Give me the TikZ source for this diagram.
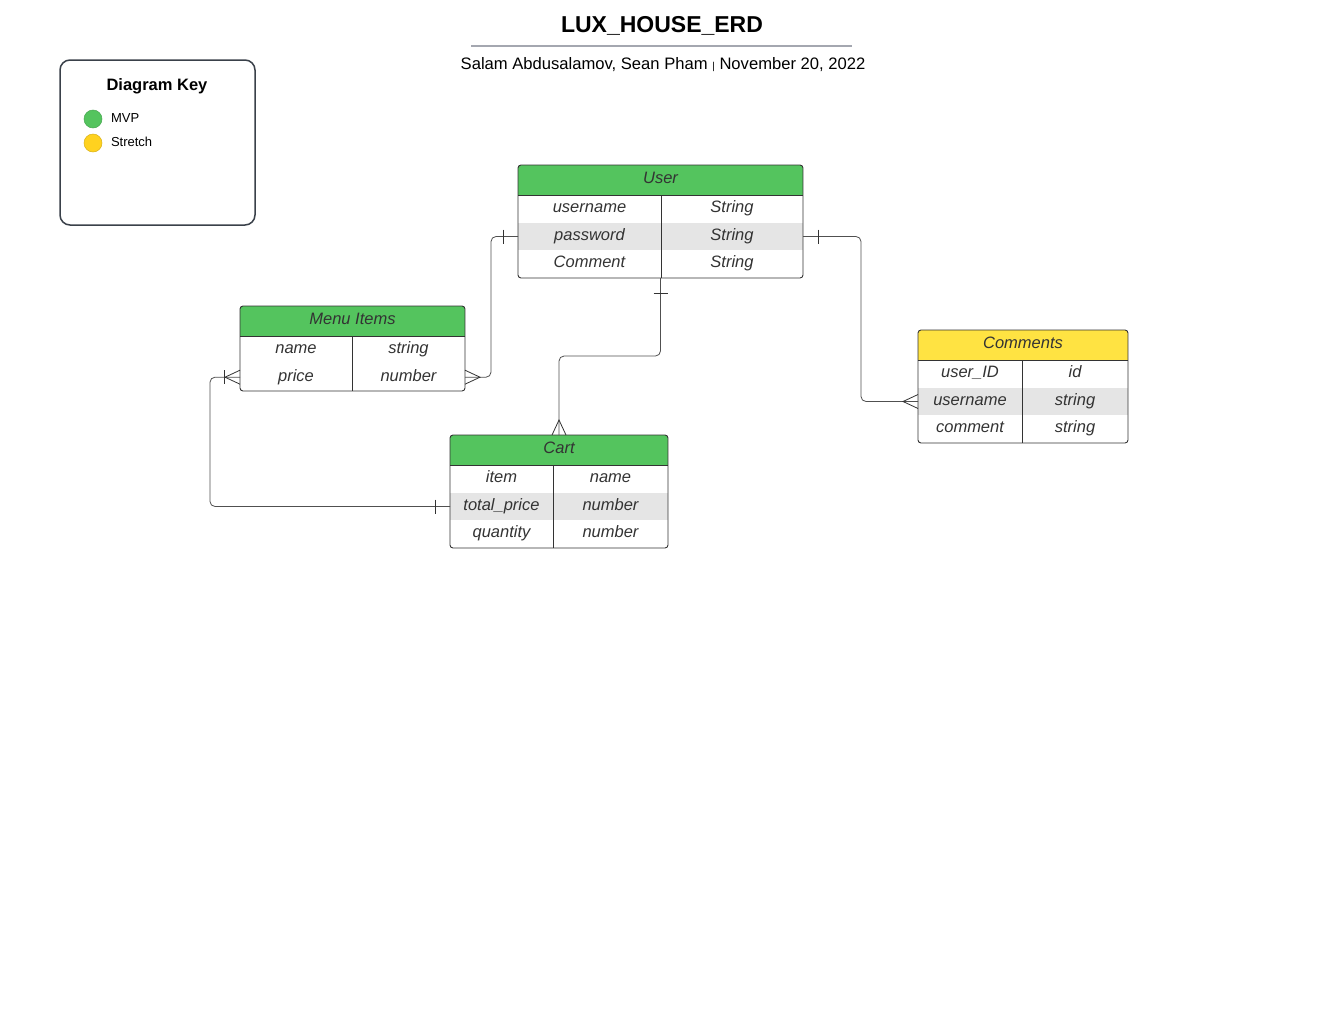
\documentclass[tikz,border=0pt]{standalone}
\usepackage{fontspec}
\setmainfont{Liberation Sans}
\definecolor{mvpgreen}{HTML}{54C45E}
\definecolor{stretchyellow}{HTML}{FFE342}
\definecolor{keyyellow}{HTML}{FFD21F}
\definecolor{rowgray}{HTML}{E5E5E5}
\definecolor{inkgray}{HTML}{333333}
\definecolor{keyborder}{HTML}{3A414A}
\definecolor{rulegray}{HTML}{A4A7B0}
\definecolor{linkgray}{HTML}{505050}
\tikzset{
    tframe/.style = {draw = inkgray, line width = 0.9pt, rounded corners = 3pt, inner sep = 0pt, outer sep = 0pt},
    rowbox/.style = {inner sep = 0pt, outer sep = 0pt, minimum height = 27.6pt},
    cell/.style = {font = \fontsize{16.5}{19}\selectfont\itshape, text = inkgray, text height = 11.8pt, text depth = 0pt, inner sep = 0pt},
    divider/.style = {draw = inkgray, line width = 0.8pt},
    link/.style = {draw = linkgray, line width = 0.8pt, rounded corners = 5pt},
    notch/.style = {draw = inkgray, line width = 0.8pt},
    crow/.style = {draw = inkgray, line width = 0.8pt}
}
\begin{document}
\begin{tikzpicture}[x = 1pt, y = -1pt]
    \useasboundingbox (0,0) rectangle (1320,1020);
    % title block
    \node [font = \fontsize{23}{26}\selectfont\bfseries, text height = 16.5pt, text depth = 0pt, inner sep = 0pt] (title) at (662,24) {LUX\_HOUSE\_ERD};
    \draw [rulegray, line width = 1.6pt] (471,46) -- (852,46);
    \node [font = \fontsize{16.6}{19}\selectfont, text height = 12pt, text depth = 0pt, inner sep = 0pt] (authors) at (663,63) {Salam Abdusalamov, Sean Pham {\fontsize{10}{10}\selectfont |} November 20, 2022};
    % diagram key
    \node [draw = keyborder, line width = 1.5pt, rounded corners = 10pt, minimum width = 195pt, minimum height = 165pt] (key) at (157.5,142.5) {};
    \node [font = \fontsize{16.5}{19}\selectfont\bfseries] (keytitle) at (157,86) {Diagram Key};
    \node [circle, fill = mvpgreen, draw = mvpgreen!85!black, line width = 0.5pt, minimum size = 18pt, inner sep = 0pt] (mvpdot) at (93,119) {};
    \node [circle, fill = keyyellow, draw = keyyellow!85!black, line width = 0.5pt, minimum size = 18pt, inner sep = 0pt] (stretchdot) at (93,143) {};
    \node [anchor = west, font = \fontsize{13}{15}\selectfont] (mvplabel) at (107.5,118) {MVP};
    \node [anchor = west, font = \fontsize{13}{15}\selectfont] (stretchlabel) at (107.5,142) {Stretch};
    % User
    \begin{scope}
        \clip [rounded corners = 3pt] (518,165) rectangle (803,278);
        \fill [mvpgreen] (518,165) rectangle (803,195);
        \node [rowbox, fill = rowgray, minimum width = 285pt] (userPass) at (660.5,236.5) {};
    \end{scope}
    \draw [divider] (518,195) -- (803,195);
    \draw [divider] (661,195) -- (661,278);
    \node [cell] at (660.5,178) {User};
    \node [cell] at (589.5,207) {username};
    \node [cell] at (732,207) {String};
    \node [cell] at (589.5,235) {password};
    \node [cell] at (732,235) {String};
    \node [cell] at (589.5,262) {Comment};
    \node [cell] at (732,262) {String};
    \node [tframe, minimum width = 285pt, minimum height = 113pt] (user) at (660.5,221.5) {};
    % Menu Items
    \begin{scope}
        \clip [rounded corners = 3pt] (240,306) rectangle (465,391);
        \fill [mvpgreen] (240,306) rectangle (465,336);
        \node [rowbox, minimum width = 225pt] (menuPrice) at (352.5,377.2) {};
    \end{scope}
    \draw [divider] (240,336) -- (465,336);
    \draw [divider] (352,336) -- (352,391);
    \node [cell] at (352.5,319) {Menu Items};
    \node [cell] at (296,348) {name};
    \node [cell] at (408.5,348) {string};
    \node [cell] at (296,376) {price};
    \node [cell] at (408.5,376) {number};
    \node [tframe, minimum width = 225pt, minimum height = 85pt] (menu) at (352.5,348.5) {};
    % Cart
    \begin{scope}
        \clip [rounded corners = 3pt] (450,435) rectangle (668,548);
        \fill [mvpgreen] (450,435) rectangle (668,465);
        \node [rowbox, fill = rowgray, minimum width = 218pt] (cartTotal) at (559,506.5) {};
    \end{scope}
    \draw [divider] (450,465) -- (668,465);
    \draw [divider] (553,465) -- (553,548);
    \node [cell] at (559,448) {Cart};
    \node [cell] at (501.5,477) {item};
    \node [cell] at (610.5,477) {name};
    \node [cell] at (501.5,505) {total\_price};
    \node [cell] at (610.5,505) {number};
    \node [cell] at (501.5,532) {quantity};
    \node [cell] at (610.5,532) {number};
    \node [tframe, minimum width = 218pt, minimum height = 113pt] (cart) at (559,491.5) {};
    % Comments
    \begin{scope}
        \clip [rounded corners = 3pt] (918,330) rectangle (1128,443);
        \fill [stretchyellow] (918,330) rectangle (1128,360);
        \node [rowbox, fill = rowgray, minimum width = 210pt] (comUser) at (1023,401.5) {};
    \end{scope}
    \draw [divider] (918,360) -- (1128,360);
    \draw [divider] (1022,360) -- (1022,443);
    \node [cell] at (1023,343) {Comments};
    \node [cell] at (970,372) {user\_ID};
    \node [cell] at (1075,372) {id};
    \node [cell] at (970,400) {username};
    \node [cell] at (1075,400) {string};
    \node [cell] at (970,427) {comment};
    \node [cell] at (1075,427) {string};
    \node [tframe, minimum width = 210pt, minimum height = 113pt] (comments) at (1023,386.5) {};
    % relationships
    \draw [link] (userPass.west) -- ++(-27,0) |- (menuPrice.east);
    \draw [link] (userPass.east) -- ++(58,0) |- (comUser.west);
    \draw [link] (user.south) -- ++(0,78) -| (cart.north);
    \draw [link] (cartTotal.west) -- ++(-240,0) |- (menuPrice.west);
    % ends
    \draw [notch] ([xshift = -15pt, yshift = 7pt]userPass.west) -- ([xshift = -15pt, yshift = -7pt]userPass.west);
    \draw [notch] ([xshift = 15pt, yshift = 7pt]userPass.east) -- ([xshift = 15pt, yshift = -7pt]userPass.east);
    \draw [notch] ([xshift = -7pt, yshift = -15pt]user.south) -- ([xshift = 7pt, yshift = -15pt]user.south);
    \draw [notch] ([xshift = -15pt, yshift = 7pt]cartTotal.west) -- ([xshift = -15pt, yshift = -7pt]cartTotal.west);
    \draw [notch] ([xshift = -16pt, yshift = 7pt]menuPrice.west) -- ([xshift = -16pt, yshift = -7pt]menuPrice.west);
    \draw [crow] ([yshift = 7pt]menuPrice.east) -- ([xshift = 15pt]menuPrice.east) -- ([yshift = -7pt]menuPrice.east);
    \draw [crow] ([yshift = 7pt]menuPrice.west) -- ([xshift = -15pt]menuPrice.west) -- ([yshift = -7pt]menuPrice.west);
    \draw [crow] ([yshift = 7pt]comUser.west) -- ([xshift = -15pt]comUser.west) -- ([yshift = -7pt]comUser.west);
    \draw [crow] ([xshift = -7pt]cart.north) -- ([yshift = 15pt]cart.north) -- ([xshift = 7pt]cart.north);
\end{tikzpicture}
\end{document}
